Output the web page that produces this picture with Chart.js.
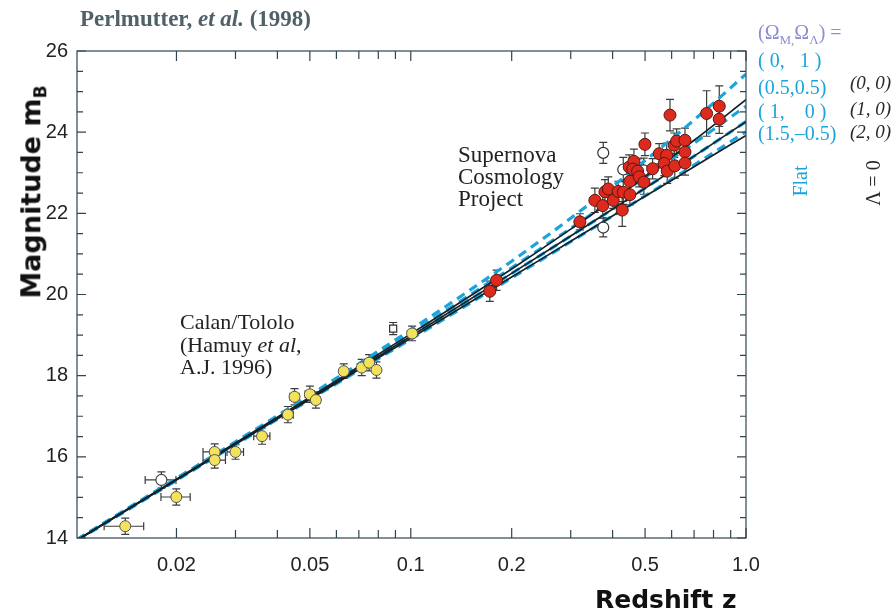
<!DOCTYPE html>
<html lang="en">
<head>
    <meta charset="UTF-8">
    <title>Perlmutter et al. (1998) Hubble diagram</title>
    <script src="https://cdn.jsdelivr.net/npm/chart.js"></script>
    <style>
        body { margin: 0; background: #fff; }
        #wrap { position: relative; width: 896px; height: 614px; overflow: hidden; }
        .txt { position: absolute; white-space: pre; line-height: 1; }
        .serif { font-family: "Liberation Serif", "Times New Roman", serif; }
        .rot { transform: translate(-50%, -50%) rotate(-90deg); }
        .cyan { color: #1ba4dc; }
        .dark { color: #2a2a2a; font-style: italic; }
    </style>
</head>
<body>
<div id="wrap">
    <canvas id="hubble" width="896" height="614"></canvas>

    <div class="txt serif" style="left:80px; top:7px; font-size:23px; font-weight:bold; color:#50616a;">Perlmutter, <i>et al.</i> (1998)</div>

    <div class="txt rot" style="left:33px; top:192px; font:bold 27px 'DejaVu Sans', sans-serif; color:#111;">Magnitude m<sub style="font-size:17px;">B</sub></div>
    <div class="txt" style="left:595px; top:585px; font:bold 25px 'DejaVu Sans', sans-serif; color:#111;">Redshift z</div>

    <div class="serif" style="position:absolute; left:458px; top:144px; font-size:23px; line-height:22px; color:#222;">Supernova<br>Cosmology<br>Project</div>
    <div class="serif" style="position:absolute; left:180px; top:311px; font-size:22px; line-height:22.5px; color:#222;">Calan/Tololo<br>(Hamuy <i>et al</i>,<br>A.J. 1996)</div>

    <!-- legend -->
    <div class="txt serif" style="left:758px; top:22px; font-size:20px; color:#8c8fd0;">(Ω<sub style="font-size:13px;">M,</sub>Ω<sub style="font-size:13px;">Λ</sub>) =</div>
    <div class="txt serif cyan" style="left:758px; top:50px; font-size:20px;">( 0,   1 )</div>
    <div class="txt serif cyan" style="left:758px; top:77px; font-size:20px;">(0.5,0.5)</div>
    <div class="txt serif cyan" style="left:758px; top:101px; font-size:20px;">( 1,    0 )</div>
    <div class="txt serif cyan" style="left:758px; top:123px; font-size:20px;">(1.5,–0.5)</div>
    <div class="txt serif dark" style="left:850px; top:73px; font-size:19px;">(0, 0)</div>
    <div class="txt serif dark" style="left:850px; top:99px; font-size:19px;">(1, 0)</div>
    <div class="txt serif dark" style="left:850px; top:122px; font-size:19px;">(2, 0)</div>
    <div class="txt serif cyan rot" style="left:800px; top:181px; font-size:20px;">Flat</div>
    <div class="txt serif rot" style="left:873px; top:183px; font-size:20px; color:#2a2a2a;">Λ = 0</div>
</div>

<script>
    // axis ticks
    const xTickVals = [0.02, 0.03, 0.04, 0.05, 0.06, 0.07, 0.08, 0.09, 0.1, 0.2, 0.3, 0.4, 0.5, 0.6, 0.7, 0.8, 0.9, 1.0];
    const xLabelVals = [0.02, 0.05, 0.1, 0.2, 0.5, 1.0];
    const yLabelVals = [14, 16, 18, 20, 22, 24, 26];

    // model curves
    const modelZ = [0.0101, 0.02, 0.05, 0.1, 0.2, 0.3, 0.5, 0.7, 1.0];
    const flat01 = [13.96, 15.47, 17.52, 19.13, 20.82, 21.88, 23.30, 24.30, 25.43];
    const flat55 = [13.96, 15.45, 17.48, 19.05, 20.66, 21.63, 22.89, 23.73, 24.64];
    const flat10 = [13.95, 15.44, 17.44, 18.97, 20.52, 21.44, 22.62, 23.41, 24.26];
    const flat1505 = [13.94, 15.42, 17.41, 18.90, 20.41, 21.30, 22.43, 23.19, 24.01];
    const open00 = [13.95, 15.45, 17.47, 19.03, 20.63, 21.61, 22.90, 23.80, 24.80];
    const open10 = [13.95, 15.44, 17.44, 18.97, 20.52, 21.44, 22.62, 23.41, 24.26];
    const open20 = [13.94, 15.43, 17.42, 18.92, 20.43, 21.31, 22.42, 23.15, 23.92];

    // Calan/Tololo supernovae
    const ctZ = [0.01407, 0.01998, 0.0260, 0.0260, 0.0300, 0.0360, 0.0430, 0.0450, 0.0500, 0.0521, 0.0631, 0.0714, 0.0751, 0.0790, 0.1009];
    const ctM = [14.29, 15.01, 16.12, 15.92, 16.12, 16.51, 17.04, 17.48, 17.54, 17.40, 18.11, 18.20, 18.32, 18.14, 19.04];
    const ctDz = [0.0019, 0.0020, 0.0020, 0.0020, 0.0017, 0.0020, 0.0016, 0.0014, 0.0016, 0.0015, 0.0016, 0.0016, 0.0016, 0.0016, 0.0016];
    const ctDm = [0.20, 0.20, 0.20, 0.20, 0.18, 0.20, 0.20, 0.20, 0.20, 0.20, 0.18, 0.20, 0.20, 0.20, 0.18];

    // excluded low-z points
    const ctOpenZ = [0.01803];
    const ctOpenM = [15.43];
    const sqZ = [0.0886];
    const sqM = [19.16];

    // Supernova Cosmology Project
    const scpZ = [0.1721, 0.1803, 0.3194, 0.3541, 0.3738, 0.3795, 0.3883, 0.4018, 0.4158, 0.4304, 0.4274, 0.4504, 0.4504, 0.4483, 0.4631, 0.4594, 0.4750, 0.4805, 0.4959, 0.4994, 0.5265, 0.5510, 0.5799, 0.5704, 0.5822, 0.6109, 0.6210, 0.6576, 0.6576, 0.6130, 0.6576, 0.5933, 0.7630, 0.8322, 0.8322];
    const scpM = [20.08, 20.35, 21.79, 22.32, 22.19, 22.53, 22.60, 22.32, 22.54, 22.52, 22.08, 22.46, 22.79, 23.14, 23.28, 23.09, 23.04, 22.90, 22.77, 23.70, 23.10, 23.47, 23.43, 23.23, 23.04, 23.68, 23.78, 23.80, 23.51, 23.17, 23.24, 24.42, 24.46, 24.64, 24.32];
    const scpDm = [0.25, 0.25, 0.20, 0.30, 0.30, 0.30, 0.30, 0.20, 0.25, 0.30, 0.40, 0.25, 0.30, 0.30, 0.30, 0.25, 0.30, 0.25, 0.30, 0.28, 0.25, 0.25, 0.30, 0.30, 0.30, 0.30, 0.30, 0.30, 0.30, 0.30, 0.30, 0.39, 0.56, 0.50, 0.35];
    const scpOpenZ = [0.3751, 0.3751, 0.4304, 0.4946];
    const scpOpenM = [23.49, 21.65, 23.08, 23.06];
    const scpOpenDm = [0.26, 0.23, 0.30, 0.30];

    const pts = (xs, ys) => xs.map((x, i) => ({ x: x, y: ys[i] }));

    function dashed(vals) {
        return { type: 'line', data: pts(modelZ, vals), borderColor: '#1ba4dc', borderWidth: 3.2,
                 borderDash: [9, 6], pointRadius: 0, cubicInterpolationMode: 'monotone', order: 3 };
    }
    function solid(vals) {
        return { type: 'line', data: pts(modelZ, vals), borderColor: '#13222a', borderWidth: 1.7,
                 pointRadius: 0, cubicInterpolationMode: 'monotone', order: 2 };
    }

    // error bars + framed box with inward ticks
    const extras = {
        id: 'extras',
        beforeDatasetsDraw(chart) {
            const ctx = chart.ctx, xs = chart.scales.x, ys = chart.scales.y;
            ctx.save();
            ctx.strokeStyle = '#3c3c3c';
            ctx.lineWidth = 1.2;
            chart.data.datasets.forEach(ds => {
                if (!ds.errY) return;
                ds.data.forEach((p, i) => {
                    const px = xs.getPixelForValue(p.x), py = ys.getPixelForValue(p.y);
                    const e = ds.errY[i];
                    const y1 = ys.getPixelForValue(p.y + e), y2 = ys.getPixelForValue(p.y - e);
                    ctx.beginPath();
                    ctx.moveTo(px, y1); ctx.lineTo(px, y2);
                    ctx.moveTo(px - 4, y1); ctx.lineTo(px + 4, y1);
                    ctx.moveTo(px - 4, y2); ctx.lineTo(px + 4, y2);
                    if (ds.errX) {
                        const d = ds.errX[i];
                        const x1 = xs.getPixelForValue(p.x - d), x2 = xs.getPixelForValue(p.x + d);
                        ctx.moveTo(x1, py); ctx.lineTo(x2, py);
                        ctx.moveTo(x1, py - 4); ctx.lineTo(x1, py + 4);
                        ctx.moveTo(x2, py - 4); ctx.lineTo(x2, py + 4);
                    }
                    ctx.stroke();
                });
            });
            ctx.restore();
        },
        afterDraw(chart) {
            const ctx = chart.ctx, a = chart.chartArea, xs = chart.scales.x, ys = chart.scales.y;
            ctx.save();
            ctx.strokeStyle = '#2f4650';
            ctx.lineWidth = 1.2;
            ctx.strokeRect(a.left, a.top, a.right - a.left, a.bottom - a.top);
            ctx.beginPath();
            xTickVals.forEach(v => {
                const px = xs.getPixelForValue(v);
                const len = xLabelVals.includes(v) ? 10 : 8;
                ctx.moveTo(px, a.bottom); ctx.lineTo(px, a.bottom - len);
                ctx.moveTo(px, a.top); ctx.lineTo(px, a.top + len);
            });
            ys.ticks.forEach(t => {
                const py = ys.getPixelForValue(t.value);
                const len = yLabelVals.includes(t.value) ? 9 : 6;
                ctx.moveTo(a.left, py); ctx.lineTo(a.left + len, py);
                ctx.moveTo(a.right, py); ctx.lineTo(a.right - len, py);
            });
            ctx.stroke();
            ctx.restore();
        }
    };

    new Chart(document.getElementById('hubble'), {
        type: 'scatter',
        data: {
            datasets: [
                dashed(flat01), dashed(flat55), dashed(flat10), dashed(flat1505),
                solid(open00), solid(open10), solid(open20),
                { data: pts(ctZ, ctM), errX: ctDz, errY: ctDm, pointRadius: 5.5, pointBackgroundColor: '#f2e25c',
                  pointBorderColor: '#555', pointBorderWidth: 1, order: 1 },
                { data: pts(ctOpenZ, ctOpenM), errX: [0.0019], errY: [0.2], pointRadius: 5.5, pointBackgroundColor: '#fff',
                  pointBorderColor: '#444', pointBorderWidth: 1.2, order: 1 },
                { data: pts(sqZ, sqM), errY: [0.15], pointStyle: 'rect', pointRadius: 5, pointBackgroundColor: '#fff',
                  pointBorderColor: '#333', pointBorderWidth: 1.2, order: 1 },
                { data: pts(scpOpenZ, scpOpenM), errY: scpOpenDm, pointRadius: 5.5, pointBackgroundColor: '#fff',
                  pointBorderColor: '#333', pointBorderWidth: 1.2, order: 1 },
                { data: pts(scpZ, scpM), errY: scpDm, pointRadius: 6, pointBackgroundColor: '#dd2a1e',
                  pointBorderColor: '#5a1810', pointBorderWidth: 1, order: 0 }
            ]
        },
        options: {
            responsive: false,
            devicePixelRatio: 1,
            animation: false,
            layout: { padding: { left: 0, right: 150, top: 51, bottom: 0 } },
            plugins: { legend: { display: false }, tooltip: { enabled: false } },
            scales: {
                x: {
                    type: 'logarithmic',
                    min: 0.0101,
                    max: 1.0,
                    afterBuildTicks: s => { s.ticks = xTickVals.map(v => ({ value: v })); },
                    afterFit: s => { s.height = 76; },
                    grid: { display: false, drawTicks: false },
                    border: { display: false },
                    ticks: {
                        autoSkip: false, maxRotation: 0, padding: 15, color: '#222',
                        font: { family: 'Liberation Sans', size: 20 },
                        callback: v => xLabelVals.includes(v) ? (v === 1 ? '1.0' : String(v)) : ''
                    }
                },
                y: {
                    min: 14,
                    max: 26,
                    afterFit: s => { s.width = 77; },
                    grid: { display: false, drawTicks: false },
                    border: { display: false },
                    ticks: {
                        stepSize: 0.5, autoSkip: false, padding: 9, color: '#222',
                        font: { family: 'Liberation Sans', size: 20 },
                        callback: v => yLabelVals.includes(v) ? String(v) : ''
                    }
                }
            }
        },
        plugins: [extras]
    });
</script>
</body>
</html>
